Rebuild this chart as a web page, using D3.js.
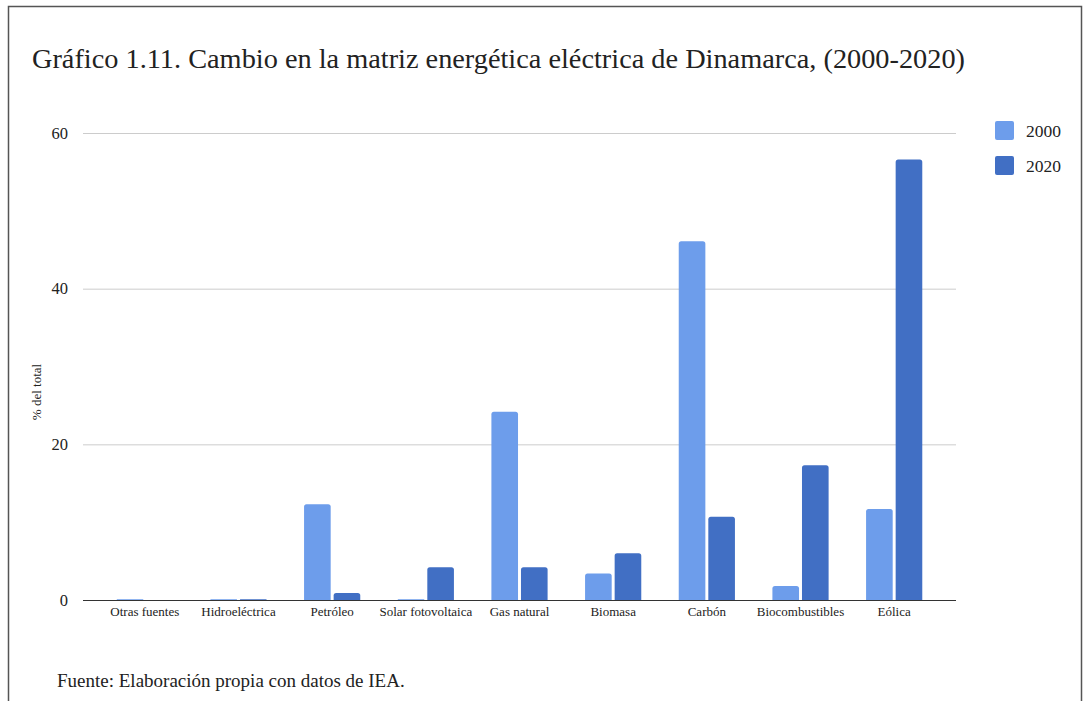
<!DOCTYPE html>
<html>
<head>
<meta charset="utf-8">
<script src="https://cdn.jsdelivr.net/npm/d3@7"></script>
<style>
  html, body { margin: 0; padding: 0; background: #fff; }
  svg { display: block; }
</style>
</head>
<body>
<svg id="chart" width="1083" height="701"></svg>
<script>
const categories = ["Otras fuentes", "Hidroeléctrica", "Petróleo", "Solar fotovoltaica", "Gas natural", "Biomasa", "Carbón", "Biocombustibles", "Eólica"];
const seriesNames = ["2000", "2020"];
const values2000 = [0.1, 0.1, 12.3, 0.1, 24.2, 3.4, 46.1, 1.8, 11.7];
const values2020 = [0, 0.1, 0.9, 4.2, 4.2, 6.0, 10.7, 17.3, 56.6];
const yTicks = [0, 20, 40, 60];
const colors = ["#6d9deb", "#416fc4"];

const title = "Gráfico 1.11. Cambio en la matriz energética eléctrica de Dinamarca, (2000-2020)";
const yLabel = "% del total";
const source = "Fuente: Elaboración propia con datos de IEA.";

const svg = d3.select("#chart");
const font = "'Liberation Serif', 'Times New Roman', serif";

// frame
svg.append("path")
  .attr("d", "M8.5,701 L8.5,6.5 L1081.5,6.5 L1081.5,701")
  .attr("fill", "none").attr("stroke", "#555").attr("stroke-width", 1.5);

// title
svg.append("text").attr("x", 32).attr("y", 68)
  .attr("font-family", font).attr("font-size", 28).attr("fill", "#222")
  .attr("textLength", 933).attr("lengthAdjust", "spacingAndGlyphs")
  .text(title);

const plot = { left: 83, right: 956, top: 133, bottom: 600 };

const y = d3.scaleLinear().domain([0, 60]).range([plot.bottom, plot.top]);
const x0 = d3.scaleBand().domain(categories).range([plot.left, plot.right])
  .paddingInner(0.4).paddingOuter(0.36);
const x1 = d3.scaleBand().domain(seriesNames).range([0, x0.bandwidth()]).paddingInner(0.1);

// grid
svg.append("g").selectAll("line").data(yTicks.filter(d => d !== 0)).join("line")
  .attr("x1", plot.left).attr("x2", plot.right)
  .attr("y1", d => y(d) + 0.5).attr("y2", d => y(d) + 0.5)
  .attr("stroke", "#cccccc").attr("stroke-width", 1);

// y tick labels
svg.append("g").selectAll("text").data(yTicks).join("text")
  .attr("x", 68).attr("y", d => y(d)).attr("dy", "0.35em")
  .attr("text-anchor", "end")
  .attr("font-family", font).attr("font-size", 16.5).attr("fill", "#222")
  .text(d => d);

// y axis label
svg.append("text")
  .attr("transform", `translate(41,392) rotate(-90)`)
  .attr("text-anchor", "middle")
  .attr("font-family", font).attr("font-size", 13).attr("fill", "#222")
  .text(yLabel);

// bars
const data = categories.map((c, i) => ({ cat: c, vals: [values2000[i], values2020[i]] }));
function barPath(x, w, yTop, yBot) {
  const h = yBot - yTop;
  if (h <= 0) return "";
  const r = Math.min(2.5, h / 2, w / 2);
  return `M${x},${yBot} L${x},${yTop + r} Q${x},${yTop} ${x + r},${yTop} L${x + w - r},${yTop} Q${x + w},${yTop} ${x + w},${yTop + r} L${x + w},${yBot} Z`;
}
const groups = svg.append("g").selectAll("g").data(data).join("g")
  .attr("transform", d => `translate(${x0(d.cat)},0)`);
groups.selectAll("path").data(d => d.vals.map((v, j) => ({ v, s: seriesNames[j], j }))).join("path")
  .attr("d", d => barPath(x1(d.s), x1.bandwidth(), y(d.v), y(0)))
  .attr("fill", d => colors[d.j]);

// baseline
svg.append("line").attr("x1", plot.left).attr("x2", plot.right)
  .attr("y1", y(0) + 0.5).attr("y2", y(0) + 0.5)
  .attr("stroke", "#333").attr("stroke-width", 1);

// x labels
svg.append("g").selectAll("text").data(categories).join("text")
  .attr("x", d => x0(d) + x0.bandwidth() / 2).attr("y", 616)
  .attr("text-anchor", "middle")
  .attr("font-family", font).attr("font-size", 13).attr("fill", "#222")
  .text(d => d);

// legend
const legend = svg.append("g").selectAll("g").data(seriesNames).join("g")
  .attr("transform", (d, i) => `translate(995,${121 + i * 35})`);
legend.append("rect").attr("width", 19).attr("height", 19).attr("rx", 2)
  .attr("fill", (d, i) => colors[i]);
legend.append("text").attr("x", 31).attr("y", 10).attr("dy", "0.35em")
  .attr("font-family", font).attr("font-size", 17.5).attr("fill", "#222")
  .text(d => d);

// source
svg.append("text").attr("x", 57).attr("y", 687)
  .attr("font-family", font).attr("font-size", 19).attr("fill", "#222")
  .text(source);
</script>
</body>
</html>
